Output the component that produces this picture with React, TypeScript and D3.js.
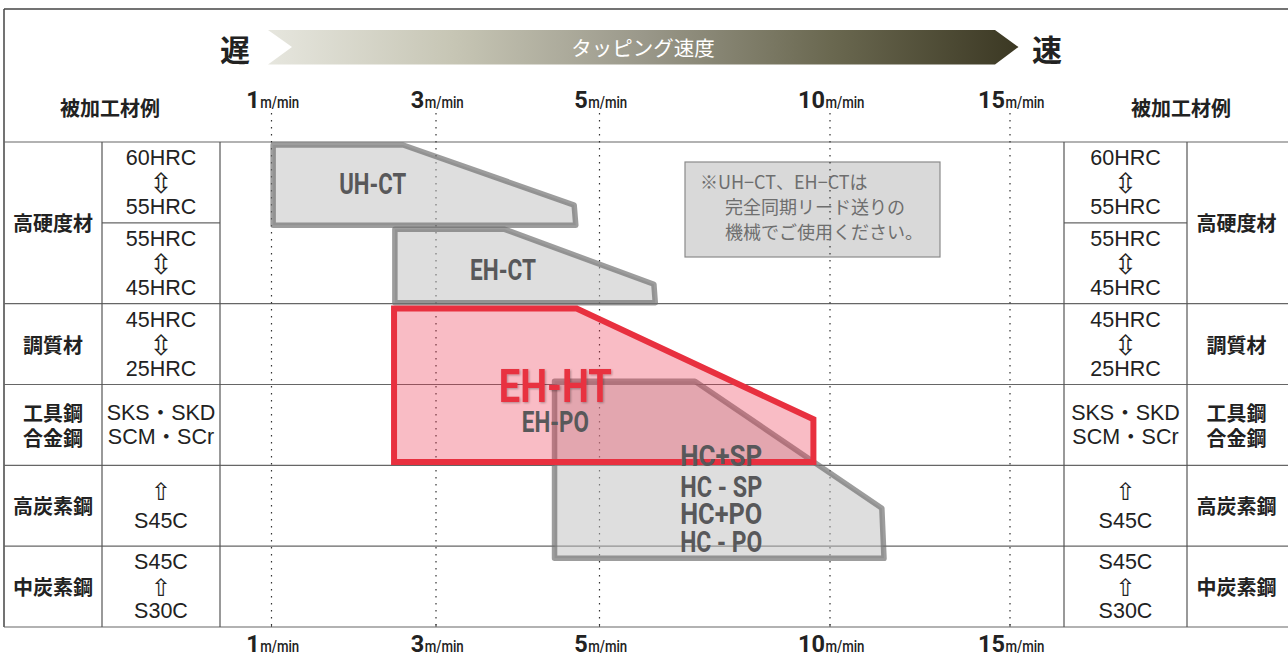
import React from "react";
import * as d3 from "d3";

// ---------- data ----------
const speedTicks = [1, 3, 5, 10, 15];
const speedUnit = "m/min";

// material groups (row units: 0 = top of table, 6 = bottom)
const materialNames = [["高硬度材"], ["調質材"], ["工具鋼", "合金鋼"], ["高炭素鋼"], ["中炭素鋼"]];
const materialSpans = [[0, 2], [2, 3], [3, 4], [4, 5], [5, 6]];

const gradeLines = [
  ["60HRC", "⇳", "55HRC"],
  ["55HRC", "⇳", "45HRC"],
  ["45HRC", "⇳", "25HRC"],
  ["SKS・SKD", "SCM・SCr"],
  ["⇧", "S45C"],
  ["S45C", "⇧", "S30C"],
];
const gradeSpans = [[0, 1], [1, 2], [2, 3], [3, 4], [4, 5], [5, 6]];

// tool ranges: [speed m/min, row units]
const uhctOutline = [[1.02, 0.037], [2.6, 0.037], [4.69, 0.78], [4.71, 1.03], [1.02, 1.03]];
const ehctOutline = [[2.5, 1.08], [3.84, 1.08], [6.18, 1.76], [6.21, 1.99], [2.5, 1.99]];
const hcOutline = [[4.45, 2.96], [7.07, 2.96], [11.44, 4.53], [11.5, 5.15], [4.45, 5.15]];
const ehhtOutline = [[2.49, 2.06], [4.72, 2.06], [9.64, 3.43], [9.64, 3.96], [2.49, 3.96]];

const grayLabels = [
  { text: "UH-CT", at: [2.23, 0.51], size: 30, width: 67 },
  { text: "EH-CT", at: [3.82, 1.58], size: 30, width: 66 },
  { text: "EH-PO", at: [4.46, 3.46], size: 29, width: 67 },
  { text: "HC+SP", at: [7.64, 3.88], size: 29, width: 82 },
  { text: "HC - SP", at: [7.64, 4.26], size: 29, width: 82 },
  { text: "HC+PO", at: [7.64, 4.6], size: 29, width: 82 },
  { text: "HC - PO", at: [7.64, 4.95], size: 29, width: 82 },
];
const mainLabel = { text: "EH-HT", at: [4.46, 3.01], size: 46, width: 113 };

const noteLines = ["※UH−CT、EH−CTは", "完全同期リード送りの", "機械でご使用ください。"];
const headerTitle = "被加工材例";
const speedTitle = "タッピング速度";
const slowLabel = "遅";
const fastLabel = "速";

// ---------- layout ----------
const W = 1288;
const H = 654;
const LEFT = 4;
const COL1 = 102;
const COL2 = 220;
const COL3 = 1064;
const COL4 = 1187;
const RIGHT = 1288;
const TOP = 9;

const x = d3.scaleLinear().domain(speedTicks).range([271.5, 436, 599.5, 830, 1010]);
const y = d3.scaleLinear().domain([0, 6]).range([142, 627]);

const line = d3
  .line<number[]>()
  .x((d) => x(d[0]))
  .y((d) => y(d[1]));
const closed = (pts: number[][]) => (line(pts) || "") + "Z";

const CJK = "'Noto Sans CJK JP', sans-serif";
const LAT = "'Liberation Sans', 'Noto Sans CJK JP', sans-serif";
const COND = "Roboto, 'Liberation Sans', sans-serif";
const ARROW = "'DejaVu Sans', sans-serif";

function GradeCell({ lines, cx, from, to }: { lines: string[]; cx: number; from: number; to: number }) {
  const cy = (y(from) + y(to)) / 2;
  const gap = lines.length === 2 && lines[0] === "⇧" ? 30 : 24.5;
  const n = lines.length;
  return (
    <g>
      {lines.map((t, i) => {
        const yy = cy + (i - (n - 1) / 2) * gap;
        const isArrow = t === "⇳" || t === "⇧";
        return (
          <text
            key={i}
            x={cx}
            y={yy + (isArrow ? 1 : 0)}
            textAnchor="middle"
            dominantBaseline="central"
            fontFamily={isArrow ? ARROW : LAT}
            fontSize={t === "⇳" ? 28 : t === "⇧" ? 24 : 21.5}
            fill="#222"
          >
            {t}
          </text>
        );
      })}
    </g>
  );
}

function MaterialCell({ names, cx, from, to }: { names: string[]; cx: number; from: number; to: number }) {
  const cy = (y(from) + y(to)) / 2;
  const n = names.length;
  return (
    <g>
      {names.map((t, i) => (
        <text
          key={i}
          x={cx}
          y={cy + (i - (n - 1) / 2) * 25}
          textAnchor="middle"
          dominantBaseline="central"
          fontFamily={CJK}
          fontWeight={700}
          fontSize={20}
          fill="#222"
        >
          {t}
        </text>
      ))}
    </g>
  );
}

function SpeedLabel({ v, base }: { v: number; base: number }) {
  const num = String(v);
  const numW = 13.5 * num.length;
  const unitW = 39;
  const left = x(v) - (numW + unitW) / 2 + 1;
  return (
    <g>
      <text
        x={left}
        y={base}
        fontFamily={COND}
        fontWeight={700}
        fontSize={23}
        textLength={numW}
        lengthAdjust="spacingAndGlyphs"
        fill="#222"
      >
        {num}
      </text>
      <text
        x={left + numW + 0.5}
        y={base}
        fontFamily={COND}
        fontWeight={500}
        fontSize={16}
        textLength={unitW}
        lengthAdjust="spacingAndGlyphs"
        fill="#222"
      >
        {speedUnit}
      </text>
    </g>
  );
}

export default function App() {
  const rowBounds = [0, 2, 3, 4, 5, 6];
  return (
    <svg
      width={W}
      height={H}
      viewBox={`0 0 ${W} ${H}`}
      style={{ position: "absolute", left: 0, top: 0, background: "#fff" }}
    >
      <defs>
        <linearGradient id="speedGrad" x1="0" x2="1" y1="0" y2="0">
          <stop offset="0%" stopColor="#e6e6de" />
          <stop offset="25%" stopColor="#c6c5b4" />
          <stop offset="50%" stopColor="#9a988a" />
          <stop offset="75%" stopColor="#6a6850" />
          <stop offset="100%" stopColor="#3b3823" />
        </linearGradient>
        <filter id="shadow" x="-10%" y="-20%" width="130%" height="150%">
          <feDropShadow dx="1" dy="1" stdDeviation="1.2" floodColor="#000" floodOpacity="0.3" />
        </filter>
      </defs>

      {/* frame */}
      <line x1={LEFT} x2={RIGHT} y1={TOP} y2={TOP} stroke="#444" strokeWidth={1.5} />
      <line x1={LEFT} x2={LEFT} y1={TOP} y2={y(6)} stroke="#444" strokeWidth={1.5} />

      {/* horizontal row lines */}
      {rowBounds.map((r) => (
        <line key={r} x1={LEFT} x2={RIGHT} y1={y(r)} y2={y(r)} stroke="#666" strokeWidth={1.2} />
      ))}
      <line x1={COL1} x2={COL2} y1={y(1)} y2={y(1)} stroke="#666" strokeWidth={1.2} />
      <line x1={COL3} x2={COL4} y1={y(1)} y2={y(1)} stroke="#666" strokeWidth={1.2} />

      {/* vertical column lines */}
      {[COL1, COL2, COL3, COL4].map((c) => (
        <line key={c} x1={c} x2={c} y1={y(0)} y2={y(6)} stroke="#555" strokeWidth={1.2} />
      ))}

      {/* bottom tick marks */}
      {speedTicks.map((v) => (
        <line key={v} x1={x(v)} x2={x(v)} y1={y(6) - 3} y2={y(6)} stroke="#555" strokeWidth={1} />
      ))}

      {/* note box */}
      <rect x={685} y={162} width={255} height={95} fill="#d9d9d9" stroke="#8a8a8a" strokeWidth={1.2} />

      {/* dotted speed lines */}
      {speedTicks.map((v) => (
        <line
          key={v}
          x1={x(v)}
          x2={x(v)}
          y1={113}
          y2={y(6)}
          stroke="#333"
          strokeWidth={1.2}
          strokeDasharray="1.6,5.4"
        />
      ))}

      {/* note text */}
      {noteLines.map((t, i) => (
        <text
          key={i}
          x={i === 0 ? 700 : 725}
          y={189 + i * 25}
          fontFamily={CJK}
          fontSize={18}
          fill="#6e6e6e"
        >
          {t}
        </text>
      ))}

      {/* gray tool ranges */}
      {[uhctOutline, ehctOutline, hcOutline].map((pts, i) => (
        <path
          key={i}
          d={closed(pts)}
          fill="rgb(190,190,190)"
          fillOpacity={0.5}
          stroke="rgb(110,110,110)"
          strokeOpacity={0.68}
          strokeWidth={5.5}
          strokeLinejoin="round"
        />
      ))}

      {/* EH-HT range */}
      <path
        d={closed(ehhtOutline)}
        fill="rgb(236,52,78)"
        fillOpacity={0.33}
        stroke="#e8303f"
        strokeWidth={6}
        strokeLinejoin="miter"
      />

      {/* tool labels */}
      <text
        x={x(mainLabel.at[0])}
        y={y(mainLabel.at[1]) + mainLabel.size * 0.355}
        textAnchor="middle"
        fontFamily={COND}
        fontWeight={700}
        fontSize={mainLabel.size}
        textLength={mainLabel.width}
        lengthAdjust="spacingAndGlyphs"
        fill="#e8303f"
        filter="url(#shadow)"
      >
        {mainLabel.text}
      </text>
      {grayLabels.map((l) => (
        <text
          key={l.text}
          x={x(l.at[0])}
          y={y(l.at[1]) + l.size * 0.355}
          textAnchor="middle"
          fontFamily={COND}
          fontWeight={700}
          fontSize={l.size}
          textLength={l.width}
          lengthAdjust="spacingAndGlyphs"
          fill="#58585a"
        >
          {l.text}
        </text>
      ))}

      {/* speed banner */}
      <path
        d={`M268,30 L995,30 L1018.5,47 L995,64.5 L268,64.5 L292,47 Z`}
        fill="url(#speedGrad)"
      />
      <text
        x={643}
        y={47}
        textAnchor="middle"
        dominantBaseline="central"
        fontFamily={CJK}
        fontSize={20.5}
        fill="#fff"
      >
        {speedTitle}
      </text>
      <text x={235} y={48} textAnchor="middle" dominantBaseline="central" fontFamily={CJK} fontWeight={700} fontSize={30} fill="#222">
        {slowLabel}
      </text>
      <text x={1047} y={48} textAnchor="middle" dominantBaseline="central" fontFamily={CJK} fontWeight={700} fontSize={30} fill="#222">
        {fastLabel}
      </text>

      {/* header titles */}
      <text x={110} y={107} textAnchor="middle" dominantBaseline="central" fontFamily={CJK} fontWeight={700} fontSize={20} fill="#222">
        {headerTitle}
      </text>
      <text x={1181} y={107} textAnchor="middle" dominantBaseline="central" fontFamily={CJK} fontWeight={700} fontSize={20} fill="#222">
        {headerTitle}
      </text>

      {/* speed labels */}
      {speedTicks.map((v) => (
        <SpeedLabel key={"t" + v} v={v} base={108} />
      ))}
      {speedTicks.map((v) => (
        <SpeedLabel key={"b" + v} v={v} base={652} />
      ))}

      {/* left table */}
      {materialNames.map((n, i) => (
        <MaterialCell key={"lm" + i} names={n} cx={(LEFT + COL1) / 2} from={materialSpans[i][0]} to={materialSpans[i][1]} />
      ))}
      {gradeLines.map((l, i) => (
        <GradeCell key={"lg" + i} lines={l} cx={(COL1 + COL2) / 2} from={gradeSpans[i][0]} to={gradeSpans[i][1]} />
      ))}

      {/* right table */}
      {gradeLines.map((l, i) => (
        <GradeCell key={"rg" + i} lines={l} cx={(COL3 + COL4) / 2} from={gradeSpans[i][0]} to={gradeSpans[i][1]} />
      ))}
      {materialNames.map((n, i) => (
        <MaterialCell key={"rm" + i} names={n} cx={(COL4 + RIGHT) / 2 - 1} from={materialSpans[i][0]} to={materialSpans[i][1]} />
      ))}
    </svg>
  );
}
